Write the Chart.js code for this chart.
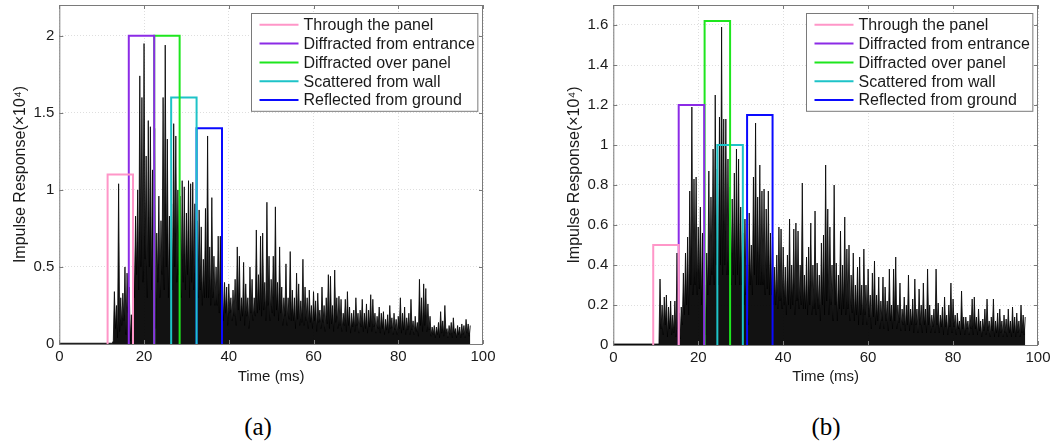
<!DOCTYPE html>
<html>
<head>
<meta charset="utf-8">
<script src="https://cdn.jsdelivr.net/npm/chart.js@4"></script>
<style>
  body { margin: 0; background: #fff; width: 1060px; height: 448px; position: relative; overflow: hidden; }
  .panel { position: absolute; top: 0; width: 530px; height: 390px; }
  .tag { position: absolute; top: 413px; width: 60px; text-align: center; font: 25px 'Liberation Serif', 'Times New Roman', serif; color: #000; }
</style>
</head>
<body>
<div class="panel" style="left:0"><canvas id="chartA" width="530" height="390"></canvas></div>
<div class="panel" style="left:530px"><canvas id="chartB" width="530" height="390"></canvas></div>
<div class="tag" style="left:228px">(a)</div>
<div class="tag" style="left:796px">(b)</div>
<script>
// impulse responses, one sample every 0.25 ms, values in units of 1e4
const SAMPLE_STEP = 0.25;
const QUIET_LEVEL = 0.005;

// (a) starts at 12 ms
const startA = 12;
const irA = [
  0.005, 0.005, 0.005, 0.02,  0.34, 0.10, 0.25, 0.04,
  1.04, 0.08, 0.30, 0.12,     0.33, 0.15, 0.50, 0.06,
  0.46, 0.20, 0.37, 0.02,     0.19, 0.05, 0.66, 0.30,
  0.83, 0.45, 1.00, 0.35,     1.74, 0.50, 1.60, 0.40,
  1.95, 0.55, 1.22, 0.30,     1.45, 0.50, 1.41, 0.35,
  1.13, 0.45, 1.40, 0.10,     0.72, 0.40, 0.96, 0.30,
  0.80, 0.45, 1.60, 0.35,     1.94, 0.50, 1.33, 0.30,
  0.83, 0.40, 0.91, 0.35,     1.43, 0.50, 1.35, 0.40,
  1.00, 0.45, 0.96, 0.30,     1.06, 0.40, 1.02, 0.35,
  0.85, 0.45, 1.06, 0.30,     1.04, 0.40, 1.05, 0.35,
  0.91, 0.35, 0.80, 0.30,     0.87, 0.35, 0.76, 0.25,
  0.55, 0.30, 0.88, 0.30,     1.35, 0.30, 0.63, 0.25,
  0.95, 0.30, 0.57, 0.25,     0.50, 0.25, 0.70, 0.20,
  0.70, 0.22, 0.44, 0.15,     0.40, 0.20, 0.37, 0.12,
  0.39, 0.20, 0.30, 0.15,     0.35, 0.18, 0.42, 0.12,
  0.63, 0.22, 0.57, 0.15,     0.30, 0.18, 0.53, 0.12,
  0.39, 0.18, 0.30, 0.10,     0.50, 0.20, 0.42, 0.15,
  0.30, 0.18, 0.74, 0.20,     0.45, 0.22, 0.70, 0.18,
  0.72, 0.22, 0.40, 0.15,     0.92, 0.25, 0.57, 0.15,
  0.42, 0.20, 0.57, 0.18,     0.89, 0.22, 0.40, 0.15,
  0.63, 0.20, 0.37, 0.12,     0.30, 0.18, 0.52, 0.12,
  0.30, 0.16, 0.60, 0.15,     0.35, 0.15, 0.30, 0.10,
  0.46, 0.16, 0.39, 0.12,     0.28, 0.14, 0.55, 0.12,
  0.37, 0.15, 0.30, 0.10,     0.35, 0.14, 0.25, 0.10,
  0.34, 0.15, 0.28, 0.08,     0.33, 0.14, 0.22, 0.10,
  0.37, 0.14, 0.25, 0.08,     0.30, 0.13, 0.45, 0.10,
  0.44, 0.13, 0.25, 0.08,     0.48, 0.14, 0.30, 0.10,
  0.31, 0.12, 0.29, 0.08,     0.20, 0.12, 0.29, 0.08,
  0.34, 0.12, 0.24, 0.07,     0.20, 0.11, 0.22, 0.08,
  0.30, 0.12, 0.20, 0.07,     0.22, 0.11, 0.29, 0.08,
  0.20, 0.10, 0.26, 0.07,     0.22, 0.11, 0.32, 0.08,
  0.29, 0.11, 0.20, 0.07,     0.18, 0.10, 0.24, 0.07,
  0.20, 0.10, 0.21, 0.06,     0.16, 0.09, 0.19, 0.07,
  0.25, 0.10, 0.17, 0.06,     0.20, 0.09, 0.16, 0.06,
  0.18, 0.10, 0.30, 0.07,     0.20, 0.09, 0.24, 0.06,
  0.17, 0.09, 0.20, 0.06,     0.29, 0.09, 0.15, 0.06,
  0.18, 0.08, 0.14, 0.05,     0.42, 0.12, 0.30, 0.08,
  0.39, 0.12, 0.36, 0.08,     0.26, 0.09, 0.18, 0.05,
  0.11, 0.06, 0.12, 0.04,     0.11, 0.06, 0.14, 0.04,
  0.21, 0.07, 0.15, 0.05,     0.25, 0.07, 0.10, 0.04,
  0.12, 0.06, 0.14, 0.04,     0.17, 0.07, 0.10, 0.04,
  0.12, 0.06, 0.11, 0.04,     0.13, 0.06, 0.12, 0.04,
  0.16, 0.07, 0.13, 0.05,     0.12
];

// (b) starts at 10 ms
const startB = 10;
const irB = [
  0.005, 0.005, 0.005, 0.005, 0.33, 0.08, 0.20, 0.05,
  0.24, 0.10, 0.25, 0.04,     0.19, 0.08, 0.22, 0.05,
  0.15, 0.06, 0.22, 0.04,     0.46, 0.08, 0.16, 0.03,
  0.19, 0.10, 0.36, 0.15,     0.46, 0.20, 0.54, 0.15,
  0.77, 0.30, 1.19, 0.25,     0.83, 0.30, 0.84, 0.25,
  0.59, 0.28, 0.69, 0.20,     0.56, 0.25, 0.30, 0.05,
  0.46, 0.25, 0.87, 0.30,     0.74, 0.35, 0.98, 0.30,
  1.25, 0.40, 0.88, 0.30,     1.14, 0.40, 1.59, 0.35,
  1.13, 0.40, 1.13, 0.35,     0.93, 0.35, 0.79, 0.30,
  0.73, 0.35, 0.86, 0.30,     0.98, 0.35, 0.93, 0.30,
  0.69, 0.30, 0.56, 0.20,     0.63, 0.25, 0.40, 0.10,
  0.66, 0.30, 0.50, 0.25,     0.84, 0.35, 1.11, 0.30,
  0.74, 0.30, 0.90, 0.30,     0.77, 0.30, 0.78, 0.25,
  0.68, 0.28, 0.77, 0.25,     0.56, 0.25, 0.54, 0.20,
  0.39, 0.20, 0.45, 0.18,     0.59, 0.22, 0.58, 0.18,
  0.49, 0.20, 0.39, 0.15,     0.45, 0.20, 0.63, 0.18,
  0.40, 0.20, 0.58, 0.15,     0.61, 0.22, 0.57, 0.18,
  0.40, 0.20, 0.81, 0.18,     0.35, 0.18, 0.44, 0.15,
  0.49, 0.20, 0.61, 0.15,     0.40, 0.18, 0.67, 0.15,
  0.41, 0.18, 0.35, 0.12,     0.51, 0.20, 0.55, 0.15,
  0.90, 0.22, 0.68, 0.15,     0.59, 0.20, 0.40, 0.12,
  0.80, 0.20, 0.41, 0.12,     0.35, 0.18, 0.57, 0.15,
  0.40, 0.18, 0.64, 0.15,     0.48, 0.18, 0.50, 0.12,
  0.35, 0.16, 0.46, 0.12,     0.30, 0.15, 0.39, 0.10,
  0.44, 0.15, 0.30, 0.10,     0.48, 0.15, 0.30, 0.10,
  0.38, 0.14, 0.25, 0.08,     0.36, 0.14, 0.42, 0.10,
  0.25, 0.12, 0.34, 0.08,     0.22, 0.12, 0.34, 0.08,
  0.29, 0.12, 0.22, 0.07,     0.38, 0.12, 0.20, 0.08,
  0.38, 0.12, 0.44, 0.08,     0.20, 0.11, 0.31, 0.07,
  0.18, 0.10, 0.24, 0.07,     0.20, 0.10, 0.35, 0.07,
  0.18, 0.10, 0.23, 0.06,     0.33, 0.10, 0.18, 0.06,
  0.28, 0.10, 0.20, 0.06,     0.31, 0.10, 0.18, 0.06,
  0.38, 0.10, 0.20, 0.06,     0.15, 0.09, 0.18, 0.06,
  0.38, 0.10, 0.21, 0.06,     0.15, 0.09, 0.19, 0.05,
  0.24, 0.09, 0.15, 0.05,     0.20, 0.09, 0.31, 0.06,
  0.23, 0.09, 0.15, 0.05,     0.16, 0.08, 0.12, 0.05,
  0.27, 0.08, 0.14, 0.05,     0.14, 0.08, 0.12, 0.05,
  0.15, 0.08, 0.23, 0.05,     0.24, 0.08, 0.14, 0.05,
  0.18, 0.07, 0.12, 0.04,     0.13, 0.07, 0.18, 0.05,
  0.23, 0.07, 0.12, 0.04,     0.14, 0.07, 0.23, 0.04,
  0.12, 0.06, 0.16, 0.04,     0.18, 0.06, 0.12, 0.04,
  0.15, 0.06, 0.13, 0.04,     0.18, 0.06, 0.12, 0.04,
  0.19, 0.06, 0.14, 0.04,     0.16, 0.06, 0.12, 0.04,
  0.20, 0.06, 0.15, 0.05,     0.14
];

// arrival windows (ms) and their marker heights
const windowNames = ["Through the panel", "Diffracted from entrance", "Diffracted over panel", "Scattered from wall", "Reflected from ground"];
const windowColors = ["#ff96c8", "#8c2be6", "#1ee61e", "#1ec3c8", "#0a0aff"];

const winStartA = [11.4, 16.4, 22.4, 26.4, 32.4];
const winEndA   = [17.4, 22.4, 28.4, 32.4, 38.4];
const winPeakA  = [1.1, 2.0, 2.0, 1.6, 1.4];

const winStartB = [9.4, 15.4, 21.5, 24.5, 31.5];
const winEndB   = [15.4, 21.4, 27.5, 30.5, 37.5];
const winPeakB  = [0.5, 1.2, 1.62, 1.0, 1.15];

const TEXT = '#1a1a1a';
const FONT = "'Liberation Sans', Arial, sans-serif";

// box around the axes with short inward ticks on all four sides
const framePlugin = {
  id: 'frame',
  afterDatasetsDraw(chart) {
    const ctx = chart.ctx, a = chart.chartArea;
    const xs = chart.scales.x, ys = chart.scales.y;
    ctx.save();
    ctx.strokeStyle = '#7a7a7a';
    ctx.lineWidth = 1;
    ctx.strokeRect(a.left + 0.5, a.top + 0.5, a.right - a.left - 1, a.bottom - a.top);
    ctx.beginPath();
    xs.ticks.forEach(t => {
      const px = Math.round(xs.getPixelForValue(t.value)) + 0.5;
      ctx.moveTo(px, a.bottom); ctx.lineTo(px, a.bottom - 4);
      ctx.moveTo(px, a.top); ctx.lineTo(px, a.top + 4);
    });
    ys.ticks.forEach(t => {
      const py = Math.round(ys.getPixelForValue(t.value)) + 0.5;
      ctx.moveTo(a.left, py); ctx.lineTo(a.left + 4, py);
      ctx.moveTo(a.right, py); ctx.lineTo(a.right - 4, py);
    });
    ctx.stroke();
    ctx.restore();
  }
};

// framed legend in the upper right corner of the axes
const boxLegendPlugin = {
  id: 'boxLegend',
  afterDraw(chart, args, opts) {
    const ctx = chart.ctx, a = chart.chartArea;
    const sets = chart.data.datasets.filter(d => d.inLegend);
    ctx.save();
    ctx.font = opts.font;
    const textW = Math.max(...sets.map(d => ctx.measureText(d.label).width));
    const w = opts.textX + textW + opts.padRight;
    const h = (sets.length - 1) * opts.rowH + 2 * opts.padY;
    const x = Math.round(a.right - opts.right - w) + 0.5;
    const y = Math.round(a.top + opts.top) + 0.5;
    ctx.fillStyle = '#fff';
    ctx.fillRect(x, y, w, h);
    ctx.strokeStyle = '#7a7a7a';
    ctx.lineWidth = 1;
    ctx.strokeRect(x, y, w, h);
    ctx.textBaseline = 'middle';
    ctx.textAlign = 'left';
    sets.forEach((d, i) => {
      const ry = y + opts.padY + i * opts.rowH;
      ctx.strokeStyle = d.borderColor;
      ctx.lineWidth = 2;
      ctx.beginPath();
      ctx.moveTo(x + opts.lineX0, ry);
      ctx.lineTo(x + opts.lineX1, ry);
      ctx.stroke();
      ctx.fillStyle = TEXT;
      ctx.fillText(d.label, x + opts.textX, ry + 1);
    });
    ctx.restore();
  }
};

function windowSets(starts, ends, peaks) {
  return windowNames.map((name, i) => ({
    label: name,
    inLegend: true,
    data: [
      {x: starts[i], y: 0}, {x: starts[i], y: peaks[i]},
      {x: ends[i], y: peaks[i]}, {x: ends[i], y: 0}
    ],
    borderColor: windowColors[i],
    borderWidth: 2,
    pointRadius: 0,
    tension: 0,
    fill: false
  }));
}

function signalSet(start, samples) {
  const pts = [{x: 0, y: QUIET_LEVEL}];
  samples.forEach((v, i) => pts.push({x: start + i * SAMPLE_STEP, y: v}));
  return {
    label: 'Impulse response',
    data: pts,
    borderColor: 'rgba(0,0,0,0.8)',
    borderWidth: 1,
    backgroundColor: 'rgba(0,0,0,0.93)',
    fill: 'origin',
    pointRadius: 0,
    tension: 0
  };
}

function makePanel(id, signal, winStart, winEnd, winPeak, yMax, yStep, layout) {
  new Chart(document.getElementById(id), {
    type: 'line',
    data: { datasets: [...windowSets(winStart, winEnd, winPeak), signalSet(signal.start, signal.samples)] },
    options: {
      responsive: false,
      animation: false,
      layout: { padding: layout.padding },
      plugins: {
        legend: { display: false },
        tooltip: { enabled: false },
        boxLegend: { font: '16px ' + FONT, right: 6, top: 8, padY: 11.3, rowH: 18.8, lineX0: 8, lineX1: 47, textX: 52, padRight: 3 }
      },
      scales: {
        x: {
          type: 'linear', min: 0, max: 100,
          ticks: { stepSize: 20, color: TEXT, font: { family: FONT, size: 15 }, padding: 4, maxRotation: 0 },
          grid: { color: 'rgba(0,0,0,0.13)', drawTicks: false },
          border: { display: false, dash: [1, 2] },
          title: { display: true, text: 'Time (ms)', color: TEXT, font: { family: FONT, size: 15 } },
          afterFit(s) { s.height = layout.xAxisHeight; s.paddingLeft = 0; s.paddingRight = 0; }
        },
        y: {
          min: 0, max: yMax,
          ticks: {
            stepSize: yStep, includeBounds: false, color: TEXT, font: { family: FONT, size: 15 }, padding: 5,
            callback: v => String(+v.toFixed(2))
          },
          grid: { color: 'rgba(0,0,0,0.13)', drawTicks: false },
          border: { display: false, dash: [1, 2] },
          title: { display: true, text: 'Impulse Response(\u00d710\u2074)', color: TEXT, font: { family: FONT, size: 16 } },
          afterFit(s) { s.width = layout.yAxisWidth; s.paddingTop = 0; s.paddingBottom = 0; }
        }
      }
    },
    plugins: [framePlugin, boxLegendPlugin]
  });
}

makePanel('chartA', {start: startA, samples: irA}, winStartA, winEndA, winPeakA, 2.2, 0.5,
  { padding: {left: 7, right: 47, top: 5, bottom: 0}, yAxisWidth: 52.3, xAxisHeight: 46 });
makePanel('chartB', {start: startB, samples: irB}, winStartB, winEndB, winPeakB, 1.7, 0.2,
  { padding: {left: 30.5, right: 22, top: 5, bottom: 0}, yAxisWidth: 52.8, xAxisHeight: 45 });
</script>
</body>
</html>
